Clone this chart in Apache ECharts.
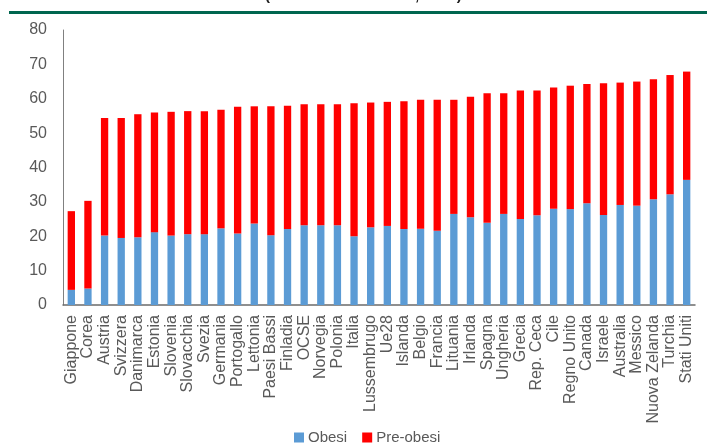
<!DOCTYPE html>
<html>
<head>
<meta charset="utf-8">
<script src="https://cdn.jsdelivr.net/npm/echarts@6/dist/echarts.min.js"></script>
<style>
  html, body { margin: 0; padding: 0; background: #fff; }
  #chart { width: 707px; height: 448px; }
</style>
</head>
<body>
<div id="chart"></div>
<script>
// Paesi ordinati per quota totale di adulti in sovrappeso (obesi + pre-obesi)
const paesi = [
  'Giappone', 'Corea', 'Austria', 'Svizzera', 'Danimarca', 'Estonia', 'Slovenia',
  'Slovacchia', 'Svezia', 'Germania', 'Portogallo', 'Lettonia', 'Paesi Bassi',
  'Finladia', 'OCSE', 'Norvegia', 'Polonia', 'Italia', 'Lussembrugo', 'Ue28',
  'Islanda', 'Belgio', 'Francia', 'Lituania', 'Irlanda', 'Spagna', 'Ungheria',
  'Grecia', 'Rep. Ceca', 'Cile', 'Regno Unito', 'Canada', 'Israele', 'Australia',
  'Messico', 'Nuova Zelanda', 'Turchia', 'Stati Uniti'
];

// Quota di obesi (%)
const obesi = [
  4.4, 4.8, 20.2, 19.5, 19.7, 21.2, 20.2,
  20.6, 20.6, 22.3, 20.8, 23.7, 20.3,
  22.1, 23.2, 23.2, 23.2, 20.0, 22.6, 23.0,
  22.1, 22.2, 21.6, 26.5, 25.5, 23.9, 26.5,
  25.0, 26.1, 28.0, 27.9, 29.6, 26.2, 29.1,
  28.9, 30.8, 32.2, 36.4
];

// Quota di pre-obesi (%)
const preObesi = [
  22.9, 25.5, 34.2, 34.9, 35.8, 34.8, 36.0,
  35.8, 35.8, 34.5, 36.9, 34.1, 37.5,
  35.9, 35.2, 35.2, 35.2, 38.7, 36.3, 36.1,
  37.2, 37.5, 38.1, 33.2, 35.1, 37.7, 35.1,
  37.4, 36.3, 35.3, 35.9, 34.7, 38.3, 35.6,
  36.1, 34.9, 34.7, 31.5
];

const yTicks = { min: 0, max: 80, step: 10 };

const labelFont = "'Liberation Sans', Arial, sans-serif";
const textGrey = '#595959';

const chart = echarts.init(document.getElementById('chart'), null, { renderer: 'canvas' });

chart.setOption({
  animation: false,
  backgroundColor: '#ffffff',
  graphic: [
    {
      // sottotitolo: solo la parte inferiore rientra nell'area disegnata
      type: 'text',
      left: 265,
      top: -12,
      style: {
        text: '(in % sul totale adulti, 2015)',
        font: "bold 15px 'Liberation Sans', Arial, sans-serif",
        fill: '#222222'
      }
    },
    {
      type: 'rect',
      shape: { x: 9, y: 11, width: 698, height: 3 },
      style: { fill: '#00664f' }
    }
  ],
  legend: {
    data: ['Obesi', 'Pre-obesi'],
    left: 294,
    top: 430,
    padding: 0,
    icon: 'rect',
    itemWidth: 10,
    itemHeight: 10,
    itemGap: 15,
    textStyle: {
      color: textGrey,
      fontFamily: labelFont,
      fontSize: 15,
      padding: [0, 0, 0, -1]
    }
  },
  grid: {
    left: 63,
    right: 12,
    top: 30,
    bottom: 143,
    containLabel: false
  },
  xAxis: {
    type: 'category',
    data: paesi,
    axisLine: { show: true, lineStyle: { color: '#6b6b6b', width: 1.5 } },
    axisTick: { show: false },
    axisLabel: {
      interval: 0,
      rotate: 90,
      margin: 10,
      color: textGrey,
      fontFamily: labelFont,
      fontSize: 16
    }
  },
  yAxis: {
    type: 'value',
    min: yTicks.min,
    max: yTicks.max,
    interval: yTicks.step,
    splitLine: { show: false },
    axisLine: { show: true, lineStyle: { color: '#808080', width: 1 } },
    axisTick: { show: false },
    axisLabel: {
      margin: 16,
      color: textGrey,
      fontFamily: labelFont,
      fontSize: 16
    }
  },
  series: [
    {
      name: 'Obesi',
      type: 'bar',
      stack: 'totale',
      barWidth: '44%',
      data: obesi,
      itemStyle: { color: '#5b9bd5' }
    },
    {
      name: 'Pre-obesi',
      type: 'bar',
      stack: 'totale',
      barWidth: '44%',
      data: preObesi,
      itemStyle: { color: '#ff0000' }
    }
  ]
});
</script>
</body>
</html>
